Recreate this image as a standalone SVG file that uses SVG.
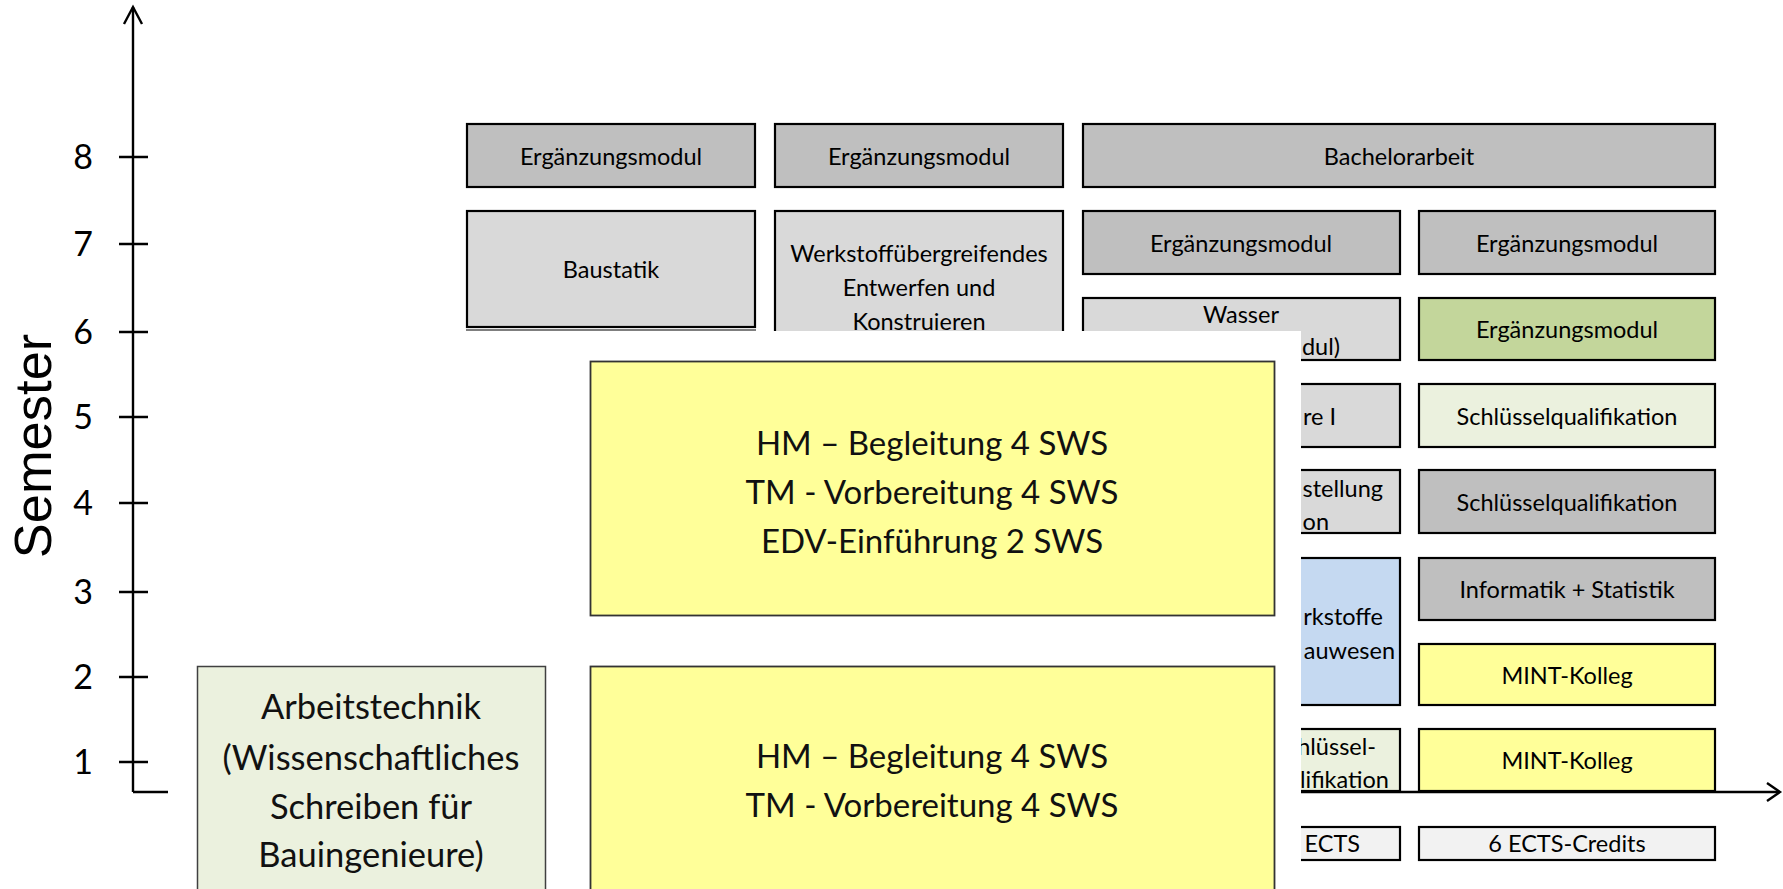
<svg xmlns="http://www.w3.org/2000/svg" width="1783" height="889" viewBox="0 0 1783 889">
<style>
.t{font-family:Lato,"Liberation Sans",sans-serif;font-size:23.5px;fill:#000;text-anchor:middle}
.te{font-family:Lato,"Liberation Sans",sans-serif;font-size:23.5px;fill:#000;text-anchor:end}
.big{font-family:Lato,"Liberation Sans",sans-serif;font-size:33px;fill:#111;text-anchor:middle}
.at{font-family:Lato,"Liberation Sans",sans-serif;font-size:34.5px;fill:#111;text-anchor:middle}
.num{font-family:Lato,"Liberation Sans",sans-serif;font-size:34px;fill:#000;text-anchor:middle}
.b{stroke:#000;stroke-width:2.2}
.dk{fill:#bfbfbf}
.lt{fill:#d9d9d9}
.gr{fill:#c3d69b}
.pg{fill:#ebf1de}
.bl{fill:#c5d9f1}
.ye{fill:#ffff99}
.ec{fill:#f2f2f2}
.ax{stroke:#000;stroke-width:2.4;fill:none}
</style>
<rect width="1783" height="889" fill="#fff"/>
<g id="connectors">
<path class="ax" d="M133 792 V7"/>
<path class="ax" d="M124 24 L133 7 L142 24"/>
<path class="ax" d="M133 792 H1780"/>
<path class="ax" d="M1767 783 L1780 792 L1767 801"/>
<path class="ax" d="M119 157 H148 M119 244 H148 M119 332 H148 M119 417 H148 M119 503 H148 M119 592 H148 M119 677 H148 M119 762 H148"/>
</g>
<g id="axis-labels">
<text class="num" x="83" y="169">8</text>
<text class="num" x="83" y="256">7</text>
<text class="num" x="83" y="344">6</text>
<text class="num" x="83" y="429">5</text>
<text class="num" x="83" y="515">4</text>
<text class="num" x="83" y="604">3</text>
<text class="num" x="83" y="689">2</text>
<text class="num" x="83" y="774">1</text>
<text transform="translate(51 446) rotate(-90)" font-family="'Liberation Sans',Arial,sans-serif" font-size="52.5" text-anchor="middle" fill="#000">Semester</text>
</g>
<g id="n-erg1"><rect class="b dk" x="467" y="124" width="288" height="63"/><text class="t" x="611" y="164.5">Ergänzungsmodul</text></g>
<g id="n-erg2"><rect class="b dk" x="775" y="124" width="288" height="63"/><text class="t" x="919" y="164.5">Ergänzungsmodul</text></g>
<g id="n-bachelor"><rect class="b dk" x="1083" y="124" width="632" height="63"/><text class="t" x="1399" y="164.5">Bachelorarbeit</text></g>
<g id="n-baustatik"><rect class="b lt" x="467" y="211" width="288" height="116"/><line x1="466" y1="330" x2="756" y2="330" stroke="#000" stroke-width="1.2"/><text class="t" x="611" y="278">Baustatik</text></g>
<g id="n-werkstoff"><rect class="b lt" x="775" y="211" width="288" height="130"/><text class="t" x="919" y="262">Werkstoffübergreifendes</text><text class="t" x="919" y="296">Entwerfen und</text><text class="t" x="919" y="329.5">Konstruieren</text></g>
<g id="n-erg7a"><rect class="b dk" x="1083" y="211" width="317" height="63"/><text class="t" x="1241" y="251.5">Ergänzungsmodul</text></g>
<g id="n-erg7b"><rect class="b dk" x="1419" y="211" width="296" height="63"/><text class="t" x="1567" y="251.5">Ergänzungsmodul</text></g>
<g id="n-wasser"><rect class="b lt" x="1083" y="298" width="317" height="62"/><text class="t" x="1241" y="323">Wasser</text><text class="te" x="1340" y="355">dul)</text></g>
<g id="n-erg6"><rect class="b gr" x="1419" y="298" width="296" height="62"/><text class="t" x="1567" y="337.5">Ergänzungsmodul</text></g>
<g id="n-r5a"><rect class="b lt" x="1083" y="384" width="317" height="63"/><text class="te" x="1336" y="425">re I</text></g>
<g id="n-sq5"><rect class="b pg" x="1419" y="384" width="296" height="63"/><text class="t" x="1567" y="425">Schlüsselqualifikation</text></g>
<g id="n-r4a"><rect class="b lt" x="1083" y="470" width="317" height="63"/><text class="te" x="1383" y="496.5">stellung</text><text class="te" x="1329" y="530">on</text></g>
<g id="n-sq4"><rect class="b dk" x="1419" y="470" width="296" height="63"/><text class="t" x="1567" y="511">Schlüsselqualifikation</text></g>
<g id="n-werkstoffe"><rect class="b bl" x="1083" y="558" width="317" height="147"/><text class="te" x="1383" y="625">rkstoffe</text><text class="te" x="1395" y="658.5">auwesen</text></g>
<g id="n-info"><rect class="b dk" x="1419" y="558" width="296" height="62"/><text class="t" x="1567" y="598">Informatik + Statistik</text></g>
<g id="n-mint2"><rect class="b ye" x="1419" y="644" width="296" height="61"/><text class="t" x="1567" y="684">MINT-Kolleg</text></g>
<g id="n-sq1"><rect class="b pg" x="1083" y="729" width="317" height="62"/><text class="te" x="1376" y="755">hlüssel-</text><text class="te" x="1389" y="788">lifikation</text></g>
<g id="n-mint1"><rect class="b ye" x="1419" y="729" width="296" height="62"/><text class="t" x="1567" y="769">MINT-Kolleg</text></g>
<g id="n-ects1"><rect class="b ec" x="1083" y="827" width="317" height="33"/><text class="te" x="1360" y="852">ECTS</text></g>
<g id="n-ects2"><rect class="b ec" x="1419" y="827" width="296" height="33"/><text class="t" x="1567" y="852">6 ECTS-Credits</text></g>
<rect id="overlay" x="168" y="331" width="1133" height="558" fill="#fff"/>
<g id="n-arbeitstechnik"><rect x="197.5" y="666.5" width="348" height="230" fill="#ebf1de" stroke="#404040" stroke-width="1.5"/>
<text class="at" x="371" y="719">Arbeitstechnik</text><text class="at" x="371" y="770">(Wissenschaftliches</text><text class="at" x="371" y="819">Schreiben für</text><text class="at" x="371" y="867">Bauingenieure)</text></g>
<g id="n-sem2"><rect x="590.5" y="361.5" width="684" height="254" fill="#ffff99" stroke="#333" stroke-width="1.8"/>
<text class="big" x="932" y="455">HM – Begleitung 4 SWS</text><text class="big" x="932" y="504">TM - Vorbereitung 4 SWS</text><text class="big" x="932" y="553">EDV-Einführung 2 SWS</text></g>
<g id="n-sem1"><rect x="590.5" y="666.5" width="684" height="240" fill="#ffff99" stroke="#333" stroke-width="1.8"/>
<text class="big" x="932" y="768">HM – Begleitung 4 SWS</text><text class="big" x="932" y="817">TM - Vorbereitung 4 SWS</text></g>
</svg>
